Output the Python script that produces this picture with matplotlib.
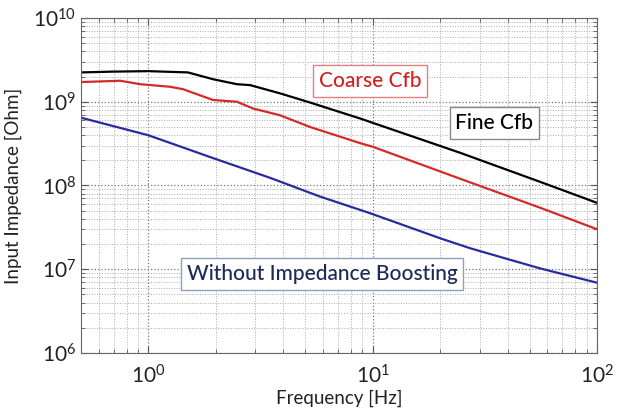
import matplotlib
matplotlib.use('Agg')
import matplotlib.pyplot as plt
import numpy as np
from matplotlib.ticker import LogLocator, FuncFormatter, NullFormatter

plt.rcParams['font.family'] = ['Lato', 'DejaVu Sans']
plt.rcParams['mathtext.fontset'] = 'custom'
plt.rcParams['mathtext.rm'] = 'Lato'
plt.rcParams['mathtext.it'] = 'Lato:italic'

# frequency [Hz] and input impedance [Ohm]
freq_fine = [0.5, 0.7, 1.0, 1.5, 1.94, 2.48, 2.84, 3.86, 5.25, 8.8, 10, 24.6, 56, 100]
z_fine = [2.24e9, 2.29e9, 2.32e9, 2.24e9, 1.86e9, 1.62e9, 1.58e9, 1.26e9,
          9.8e8, 6.3e8, 5.6e8, 2.45e8, 1.1e8, 6.2e7]

freq_coarse = [0.5, 0.75, 0.92, 1.25, 1.43, 1.94, 2.48, 2.93, 3.86, 5.25, 8.8, 10, 24.6, 56, 100]
z_coarse = [1.72e9, 1.78e9, 1.62e9, 1.51e9, 1.41e9, 1.05e9, 1.0e9, 8.3e8, 6.9e8,
            5.0e8, 3.2e8, 2.9e8, 1.2e8, 5.4e7, 3.0e7]

freq_none = [0.5, 1.0, 1.88, 3.5, 5.8, 9.7, 20, 27.2, 40, 56, 100]
z_none = [6.46e8, 3.98e8, 2.19e8, 1.23e8, 7.4e7, 4.68e7, 2.34e7, 1.78e7, 1.32e7, 1.02e7, 6.9e6]

fig = plt.figure(figsize=(6.22, 4.13), dpi=100)
ax = fig.add_axes([0.130, 0.1453, 0.830, 0.8111])

ax.loglog(freq_fine, z_fine, color='black', lw=1.6)
ax.loglog(freq_coarse, z_coarse, color='#d42a2a', lw=1.6)
ax.loglog(freq_none, z_none, color='#2a2aa0', lw=1.6)

ax.set_xlim(0.5, 100)
ax.set_ylim(1e6, 1e10)

ax.xaxis.set_major_locator(LogLocator(base=10, numticks=10))
ax.yaxis.set_major_locator(LogLocator(base=10, numticks=10))
ax.xaxis.set_minor_locator(LogLocator(base=10, subs=np.arange(2, 10), numticks=20))
ax.yaxis.set_minor_locator(LogLocator(base=10, subs=np.arange(2, 10), numticks=20))
fmt = FuncFormatter(lambda v, p: r'$10^{%d}$' % int(round(np.log10(v))))
ax.xaxis.set_major_formatter(fmt)
ax.yaxis.set_major_formatter(fmt)
ax.xaxis.set_minor_formatter(NullFormatter())
ax.yaxis.set_minor_formatter(NullFormatter())

ax.grid(True, which='major', ls=':', color='#777777', lw=0.9)
ax.grid(True, which='minor', ls=':', color='#aaaaaa', lw=0.7)
ax.tick_params(which='both', direction='in', top=True, right=True, colors='#555555',
               labelcolor='#222222', labelsize=15)
ax.tick_params(which='major', length=5)
ax.tick_params(which='minor', length=3)
ax.tick_params(axis='x', pad=8)
for s in ax.spines.values():
    s.set_color('#666666')

ax.set_xlabel('Frequency [Hz]', fontsize=13.5, color='#222222', labelpad=2)
ax.set_ylabel('Input Impedance [Ohm]', fontsize=13.5, color='#222222', labelpad=8)

box_kw = dict(fontsize=15, fontweight='medium', ha='center', va='center')
ax.text(10 ** ((370 - 148.5) / 224), 10 ** (10 - (81 - 18) / 83.75), 'Coarse Cfb',
        color='#d42020', **box_kw,
        bbox=dict(boxstyle='square,pad=0.28', fc='white', ec='#e08080', lw=1))
ax.text(10 ** ((494 - 148.5) / 224), 10 ** (10 - (123 - 18) / 83.75), 'Fine Cfb',
        color='black', **box_kw,
        bbox=dict(boxstyle='square,pad=0.28', fc='white', ec='#888888', lw=1))
ax.text(10 ** ((322 - 148.5) / 224), 10 ** (10 - (274 - 18) / 83.75), 'Without Impedance Boosting',
        color='#1c2a5a', **box_kw,
        bbox=dict(boxstyle='square,pad=0.28', fc='white', ec='#8fa0bb', lw=1))

fig.savefig('out.png', dpi=100)
